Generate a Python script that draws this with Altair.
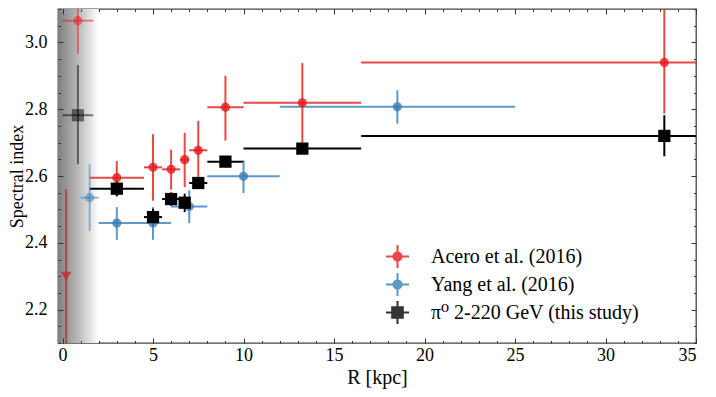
import altair as alt
import pandas as pd

# ---------------- data ----------------
labels = ["Acero et al. (2016)", "Yang et al. (2016)", "\u03c0\u2070 2-220 GeV (this study)"]
keys = ["acero", "yang", "this"]
colors = ["#e41a1c", "#377eb8", "#000000"]

acero_R   = [0.85, 3.0, 5.0, 6.0, 6.75, 7.5, 9.0, 13.25, 33.25]
acero_Rlo = [0.0, 1.5, 4.5, 5.5, 6.5, 7.0, 8.0, 10.0, 16.5]
acero_Rhi = [1.7, 4.5, 5.5, 6.5, 7.0, 8.0, 10.0, 16.5, 50.0]
acero_idx = [3.065, 2.595, 2.626, 2.620, 2.649, 2.677, 2.806, 2.819, 2.940]
acero_lo  = [2.966, 2.538, 2.526, 2.559, 2.567, 2.594, 2.706, 2.700, 2.787]
acero_hi  = [3.200, 2.645, 2.725, 2.679, 2.729, 2.765, 2.900, 2.938, 3.200]

yang_R   = [1.5, 3.0, 5.0, 7.0, 10.0, 18.5]
yang_Rlo = [1.0, 2.0, 4.0, 6.0, 8.0, 12.0]
yang_Rhi = [2.0, 4.0, 6.0, 8.0, 12.0, 25.0]
yang_idx = [2.535, 2.459, 2.459, 2.509, 2.599, 2.807]
yang_lo  = [2.435, 2.409, 2.409, 2.459, 2.549, 2.757]
yang_hi  = [2.635, 2.507, 2.507, 2.557, 2.647, 2.857]

this_R   = [0.85, 3.0, 5.0, 6.0, 6.75, 7.5, 9.0, 13.25, 33.25]
this_Rlo = [0.0, 1.5, 4.5, 5.5, 6.5, 7.0, 8.0, 10.0, 16.5]
this_Rhi = [1.7, 4.5, 5.5, 6.5, 7.0, 8.0, 10.0, 16.5, 50.0]
this_idx = [2.782, 2.562, 2.477, 2.531, 2.520, 2.579, 2.643, 2.682, 2.720]
this_lo  = [2.635, 2.540, 2.452, 2.511, 2.492, 2.568, 2.632, 2.667, 2.659]
this_hi  = [2.932, 2.583, 2.502, 2.551, 2.547, 2.590, 2.654, 2.697, 2.782]

# extra inner-Galaxy value (down-pointing marker)
inner_R = [0.2]
inner_idx = [2.30]
inner_lo = [2.0]
inner_hi = [2.56]

# shaded inner region
shade_R = [-0.25, 2.0]
shade_idx = [2.1, 3.1]

# axes
x_domain = [-0.25, 35]
y_domain = [2.1, 3.1]
x_major = [0, 5, 10, 15, 20, 25, 30, 35]
x_minor = list(range(0, 36))
y_major = [2.2, 2.4, 2.6, 2.8, 3.0]
y_minor = [2.1, 2.15, 2.2, 2.25, 2.3, 2.35, 2.4, 2.45, 2.5, 2.55, 2.6, 2.65,
           2.7, 2.75, 2.8, 2.85, 2.9, 2.95, 3.0, 3.05, 3.1]

# ---------------- tables ----------------
def table(key, label, R, Rlo, Rhi, idx, lo, hi):
    return pd.DataFrame({"key": key, "label": label, "R": R, "R_lo": Rlo, "R_hi": Rhi,
                         "idx": idx, "idx_lo": lo, "idx_hi": hi})

df = pd.concat([
    table(keys[0], labels[0], acero_R, acero_Rlo, acero_Rhi, acero_idx, acero_lo, acero_hi),
    table(keys[1], labels[1], yang_R, yang_Rlo, yang_Rhi, yang_idx, yang_lo, yang_hi),
    table(keys[2], labels[2], this_R, this_Rlo, this_Rhi, this_idx, this_lo, this_hi),
], ignore_index=True)

inner_df = pd.DataFrame({"R": inner_R, "idx": inner_idx, "idx_lo": inner_lo, "idx_hi": inner_hi})
shade_df = pd.DataFrame({"x0": [shade_R[0]], "x1": [shade_R[1]], "y0": [shade_idx[0]], "y1": [shade_idx[1]]})

FONT = "'Liberation Serif', 'DejaVu Serif', serif"
FS = 18

xs = alt.Scale(domain=x_domain, nice=False, zero=False)
ys = alt.Scale(domain=y_domain, nice=False, zero=False)
cscale = alt.Scale(domain=labels, range=colors)


def axis(orient, values, size, labels_on=False, title=None, fmt=None, lpad=0, tpad=0, **extra):
    kw = dict(orient=orient, values=values, tickSize=size, offset=-size, domain=False,
              grid=False, labels=labels_on, tickColor="#333333", tickWidth=1, zindex=1,
              labelFont=FONT, labelFontSize=FS, labelColor="#000000",
              titleFont=FONT, titleFontSize=FS, titleColor="#000000", titleFontWeight="normal",
              labelPadding=lpad, titlePadding=tpad, title=title)
    if fmt:
        kw["format"] = fmt
    kw.update(extra)
    return alt.Axis(**kw)


op_expr = "datum.R < 2 ? 0.5 : (datum.key == 'this' ? 1 : 0.8)"

base = alt.Chart(df).transform_calculate(op=op_expr)

# legend symbols: error-bar crosses with a marker
cross = "M-1,-0.09H1V0.09H-1Z M-0.09,-1H0.09V1H-0.09Z"
dot = "M0.44,0A0.44,0.44,0,1,1,-0.44,0A0.44,0.44,0,1,1,0.44,0Z"
sq = "M-0.55,-0.55H0.55V0.55H-0.55Z"
paths = [cross + " " + dot, cross + " " + dot, cross + " " + sq]

legend_layer = alt.Chart(df).transform_filter("false").mark_point(filled=True, strokeWidth=0).encode(
    x=alt.X("R:Q", scale=xs, axis=None),
    y=alt.Y("idx:Q", scale=ys, axis=None),
    color=alt.Color("label:N", scale=cscale,
                    legend=alt.Legend(orient="none", legendX=328, legendY=236, title=None,
                                      labelFont=FONT, labelFontSize=20, labelColor="#000000",
                                      symbolSize=529, labelOffset=22,
                                      rowPadding=5, symbolStrokeWidth=0, labelLimit=400)),
    shape=alt.Shape("label:N", scale=alt.Scale(domain=labels, range=paths)),
    opacity=alt.Opacity("label:N", scale=alt.Scale(domain=labels, range=[0.8, 0.8, 1.0])),
)

shade = alt.Chart(shade_df).mark_rect(
    color=alt.Gradient(gradient="linear", x1=0, x2=1, y1=0, y2=0,
                       stops=[alt.GradientStop(offset=0, color="#808080"),
                              alt.GradientStop(offset=0.45, color="#b4b4b4"),
                              alt.GradientStop(offset=1, color="#ffffff")])
).encode(
    x=alt.X("x0:Q", scale=xs, axis=axis("bottom", x_major, 5, True, "R [kpc]", "d", 3, 3,
                                        titleFontSize=20)),
    x2="x1:Q",
    y=alt.Y("y0:Q", scale=ys, axis=axis("left", y_major, 5, True, "Spectral index", ".1f", 11, 0,
                                        titleX=-45.5, titleY=167, titleAngle=270,
                                        titleAlign="center", titleBaseline="middle")),
    y2="y1:Q",
)

xerr = base.mark_rule(strokeWidth=2, clip=True).encode(
    x=alt.X("R_lo:Q", scale=xs, axis=axis("bottom", x_minor, 2.5)),
    x2="R_hi:Q",
    y=alt.Y("idx:Q", scale=ys, axis=axis("left", y_minor, 2.5)),
    color=alt.Color("label:N", scale=cscale, legend=None),
    opacity=alt.Opacity("op:Q", scale=None, legend=None),
)

yerr = base.mark_rule(strokeWidth=2, clip=True).encode(
    x=alt.X("R:Q", scale=xs, axis=axis("top", x_major, 5)),
    y=alt.Y("idx_lo:Q", scale=ys, axis=axis("right", y_major, 5)),
    y2="idx_hi:Q",
    color=alt.Color("label:N", scale=cscale, legend=None),
    opacity=alt.Opacity("op:Q", scale=None, legend=None),
)

circles = base.transform_filter("datum.key != 'this'").mark_point(
    filled=True, shape="circle", size=85, strokeWidth=0, clip=True
).encode(
    x=alt.X("R:Q", scale=xs, axis=axis("top", x_minor, 2.5)),
    y=alt.Y("idx:Q", scale=ys, axis=axis("right", y_minor, 2.5)),
    color=alt.Color("label:N", scale=cscale, legend=None),
    opacity=alt.Opacity("op:Q", scale=None, legend=None),
)

squares = base.transform_filter("datum.key == 'this'").mark_point(
    filled=True, shape="square", size=150, strokeWidth=0, clip=True
).encode(
    x=alt.X("R:Q", scale=xs, axis=None),
    y=alt.Y("idx:Q", scale=ys, axis=None),
    color=alt.Color("label:N", scale=cscale, legend=None),
    opacity=alt.Opacity("op:Q", scale=None, legend=None),
)

inner_rule = alt.Chart(inner_df).mark_rule(strokeWidth=2, color="#c0282a", opacity=0.75, clip=True).encode(
    x=alt.X("R:Q", scale=xs, axis=None),
    y=alt.Y("idx_lo:Q", scale=ys, axis=None),
    y2="idx_hi:Q",
)
inner_pt = alt.Chart(inner_df).mark_point(filled=True, shape="triangle-down", size=110, strokeWidth=0,
                                          color="#c0282a", opacity=0.75, clip=True).encode(
    x=alt.X("R:Q", scale=xs, axis=None),
    y=alt.Y("idx:Q", scale=ys, axis=None),
)

chart = alt.layer(
    legend_layer, shade, xerr, yerr, circles, squares, inner_rule, inner_pt
).resolve_axis(
    x="independent", y="independent"
).properties(
    width=638, height=334,
    padding={"left": 50, "top": 1, "right": 12, "bottom": 46},
    autosize=alt.AutoSizeParams(type="none"),
).configure(
    font=FONT
).configure_view(
    stroke="#444444", strokeWidth=1.3
)

chart.save("out.html", embed_options={"renderer": "svg", "actions": False})
